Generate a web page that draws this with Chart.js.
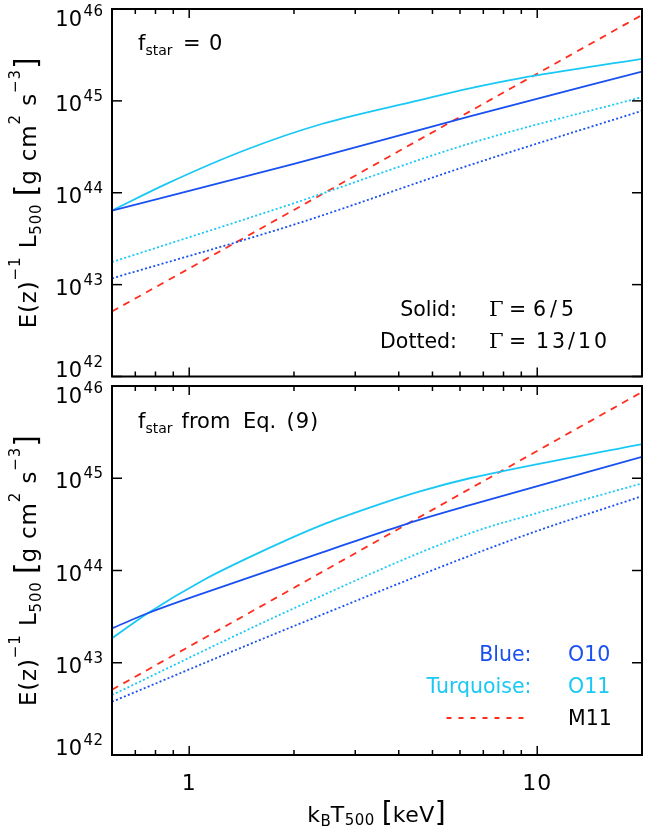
<!DOCTYPE html>
<html>
<head>
<meta charset="utf-8">
<script src="https://cdn.jsdelivr.net/npm/chart.js@4.4.1/dist/chart.umd.min.js"></script>
<style>
  body { margin: 0; background: #fff; width: 651px; height: 830px; position: relative; overflow: hidden; }
  canvas { position: absolute; left: 0; }
</style>
</head>
<body>
<canvas id="topPanel" width="651" height="400" style="top:0px"></canvas>
<canvas id="bottomPanel" width="651" height="470" style="top:360px"></canvas>
<script>
// axis ranges and ticks
const xMin = 0.6, xMax = 20;
const yMin = 1e42, yMax = 1e46;
const yTicks = [1e46, 1e45, 1e44, 1e43, 1e42];
const yTickExp = ['46', '45', '44', '43', '42'];
const xMajor = [1, 10];
const xMajorLabels = ['1', '10'];
const xMinor = [0.7, 0.8, 0.9, 2, 3, 4, 5, 6, 7, 8, 9, 20];

// M11 (red dashed), same in both panels
const m11T = [0.6, 2, 6, 20];
const m11L = [5.1e42, 6.5e43, 6.7e44, 8.6e45];

// top panel: f_star = 0
const topO10SolidT = [0.6, 2.0, 6.4, 20];
const topO10SolidL = [6.4e43, 2.06e44, 6.8e44, 2.08e45];
const topO11SolidT = [0.6, 0.86, 1.45, 2.4, 4.6, 6.4, 8.9, 20];
const topO11SolidL = [6.4e43, 1.25e44, 2.92e44, 5.6e44, 1.02e45, 1.37e45, 1.76e45, 2.86e45];
const topO10DotT = [0.6, 2.0, 6.4, 20];
const topO10DotL = [1.17e43, 4.5e43, 2.0e44, 7.8e44];
const topO11DotT = [0.6, 2.0, 6.4, 20];
const topO11DotL = [1.76e43, 7.7e43, 3.44e44, 1.10e45];

// bottom panel: f_star from Eq. (9)
const botO10SolidT = [0.6, 0.76, 1.42, 2.4, 4.2, 6.4, 20];
const botO10SolidL = [2.36e43, 3.44e43, 7.9e43, 1.56e44, 3.19e44, 5.1e44, 1.71e45];
const botO11SolidT = [0.6, 0.76, 1.1, 1.6, 2.4, 3.3, 4.6, 6.4, 20];
const botO11SolidL = [1.84e43, 3.44e43, 7.9e43, 1.58e44, 3.1e44, 4.8e44, 7.2e44, 1.0e45, 2.35e45];
const botO10DotT = [0.6, 2.0, 8.7, 20];
const botO10DotL = [3.78e42, 2.5e43, 2.23e44, 6.4e44];
const botO11DotT = [0.6, 2.0, 6.4, 10, 20];
const botO11DotL = [4.47e42, 3.89e43, 2.53e44, 4.2e44, 8.8e44];

const BLUE = 'rgb(25,80,240)';
const CYAN = 'rgb(25,200,245)';
const RED = 'rgb(255,45,30)';
const FONT = '"DejaVu Sans", sans-serif';
const SERIF = '"DejaVu Serif", serif';
const DOT = [2, 2.3];
const DASH = [7, 6];

function series(T, L, color, dash) {
    return {
        data: T.map((t, i) => ({ x: t, y: L[i] })),
        borderColor: color,
        borderWidth: 1.8,
        borderDash: dash || [],
        cubicInterpolationMode: 'monotone',
        pointRadius: 0,
        fill: false
    };
}

// draw a run of text pieces: {t, s (size), dy, f (family), ls (letter spacing), c (colour)}
function drawParts(ctx, x, y, parts, align) {
    let total = 0;
    parts.forEach(p => {
        ctx.font = p.s + 'px ' + (p.f || FONT);
        ctx.letterSpacing = (p.ls || 0) + 'px';
        p.w = ctx.measureText(p.t).width;
        total += p.w;
    });
    let cx = x;
    if (align === 'center') cx = x - total / 2;
    if (align === 'right') cx = x - total;
    ctx.textAlign = 'left';
    ctx.textBaseline = 'alphabetic';
    parts.forEach(p => {
        ctx.font = p.s + 'px ' + (p.f || FONT);
        ctx.letterSpacing = (p.ls || 0) + 'px';
        ctx.fillStyle = p.c || '#000';
        ctx.fillText(p.t, cx, y + (p.dy || 0));
        cx += p.w;
    });
    ctx.letterSpacing = '0px';
}

function seg(ctx, x1, y1, x2, y2) {
    ctx.beginPath();
    ctx.moveTo(x1, y1);
    ctx.lineTo(x2, y2);
    ctx.stroke();
}

const framePlugin = {
    id: 'frame',
    afterDraw(chart, args, opts) {
        const ctx = chart.ctx, a = chart.chartArea;
        const xs = chart.scales.x, ys = chart.scales.y;
        ctx.save();
        ctx.strokeStyle = '#000';
        ctx.lineWidth = 1.5;
        yTicks.forEach(v => {
            const y = ys.getPixelForValue(v);
            seg(ctx, a.left, y, a.left + 10, y);
            seg(ctx, a.right - 10, y, a.right, y);
        });
        xMajor.forEach(v => {
            const x = xs.getPixelForValue(v);
            seg(ctx, x, a.bottom, x, a.bottom - 9);
            seg(ctx, x, a.top, x, a.top + 9);
        });
        xMinor.forEach(v => {
            const x = xs.getPixelForValue(v);
            seg(ctx, x, a.bottom, x, a.bottom - 5);
            seg(ctx, x, a.top, x, a.top + 5);
        });
        ctx.lineWidth = 2;
        ctx.strokeRect(a.left, a.top, a.right - a.left, a.bottom - a.top);

        // y tick labels 10^n
        yTicks.forEach((v, i) => {
            const y = ys.getPixelForValue(v);
            let base = y + 10;
            if (i === 0) base = y + 17;
            if (i === yTicks.length - 1) base = y;
            drawParts(ctx, 82, base, [{ t: '10', s: 21 }], 'right');
            drawParts(ctx, 83.5, base - 10, [{ t: yTickExp[i], s: 15, ls: 0.5 }], 'left');
        });

        // y axis title
        ctx.save();
        ctx.translate(35.5, (a.top + a.bottom) / 2);
        ctx.rotate(-Math.PI / 2);
        drawParts(ctx, 0, 0, [
            { t: 'E(z)', s: 23, ls: 0.8 },
            { t: '\u22121', s: 15, dy: -16, ls: 1 },
            { t: ' L', s: 23, ls: 0.8 },
            { t: '500', s: 15, dy: 5.5, ls: 0.8 },
            { t: ' ', s: 23 },
            { t: '[', s: 30 },
            { t: 'g cm', s: 23, ls: 0.8 },
            { t: '2', s: 15, dy: -16, ls: 1 },
            { t: ' s', s: 23, ls: 0.8 },
            { t: '\u22123', s: 15, dy: -16, ls: 1 },
            { t: ']', s: 30 }
        ], 'center');
        ctx.restore();

        // x tick labels and title only for the lower panel
        if (opts.xLabels) {
            xMajor.forEach((v, i) => {
                drawParts(ctx, xs.getPixelForValue(v), a.bottom + 34.5, [{ t: xMajorLabels[i], s: 22, ls: 1 }], 'center');
            });
            drawParts(ctx, 376.5, a.bottom + 67, [
                { t: 'k', s: 22, ls: 0.5 },
                { t: 'B', s: 15, dy: 4 },
                { t: 'T', s: 22, ls: 0.5 },
                { t: '500', s: 15, dy: 3, ls: 0.5 },
                { t: ' ', s: 22 },
                { t: '[', s: 28 },
                { t: 'keV', s: 22, ls: 0.5 },
                { t: ']', s: 28 }
            ], 'center');
        }

        (opts.notes || []).forEach(n => {
            drawParts(ctx, n.x, a.top + n.y, n.parts, n.align || 'left');
        });
        if (opts.legendDash) {
            const y = a.top + opts.legendDash.y;
            ctx.strokeStyle = RED;
            ctx.lineWidth = 1.8;
            ctx.setLineDash([5, 7]);
            seg(ctx, opts.legendDash.x1, y, opts.legendDash.x2, y);
            ctx.setLineDash([]);
        }
        ctx.restore();
    }
};

function makeChart(id, padding, datasets, frame) {
    return new Chart(document.getElementById(id), {
        type: 'line',
        data: { datasets: datasets },
        options: {
            responsive: false,
            animation: false,
            layout: { padding: padding },
            plugins: {
                legend: { display: false },
                tooltip: { enabled: false },
                frame: frame
            },
            scales: {
                x: { type: 'logarithmic', min: xMin, max: xMax, display: false },
                y: { type: 'logarithmic', min: yMin, max: yMax, display: false }
            }
        },
        plugins: [framePlugin]
    });
}

makeChart('topPanel', { left: 112, right: 9, top: 9, bottom: 23.5 }, [
    series(topO10DotT, topO10DotL, BLUE, DOT),
    series(topO11DotT, topO11DotL, CYAN, DOT),
    series(topO10SolidT, topO10SolidL, BLUE),
    series(topO11SolidT, topO11SolidL, CYAN),
    series(m11T, m11L, RED, DASH)
], {
    notes: [
        { x: 138, y: 41, parts: [{ t: 'f', s: 21 }, { t: 'star', s: 14, dy: 5 }] },
        { x: 183, y: 41, parts: [{ t: '=', s: 21 }] },
        { x: 209, y: 41, parts: [{ t: '0', s: 21 }] },
        { x: 457, y: 307, align: 'right', parts: [{ t: 'Solid:', s: 20.5 }] },
        { x: 489, y: 307, parts: [{ t: '\u0393', s: 21, f: SERIF }] },
        { x: 509, y: 307, parts: [{ t: '=', s: 20.5 }] },
        { x: 533, y: 307, parts: [{ t: '6/5', s: 20.5, ls: 4 }] },
        { x: 457, y: 339, align: 'right', parts: [{ t: 'Dotted:', s: 20.5 }] },
        { x: 489, y: 339, parts: [{ t: '\u0393', s: 21, f: SERIF }] },
        { x: 509, y: 339, parts: [{ t: '=', s: 20.5 }] },
        { x: 536, y: 339, parts: [{ t: '13/10', s: 20.5, ls: 3 }] }
    ]
});

makeChart('bottomPanel', { left: 112, right: 9, top: 26, bottom: 75 }, [
    series(botO10DotT, botO10DotL, BLUE, DOT),
    series(botO11DotT, botO11DotL, CYAN, DOT),
    series(botO10SolidT, botO10SolidL, BLUE),
    series(botO11SolidT, botO11SolidL, CYAN),
    series(m11T, m11L, RED, DASH)
], {
    xLabels: true,
    notes: [
        { x: 138, y: 42, parts: [{ t: 'f', s: 21 }, { t: 'star', s: 14, dy: 5 }] },
        { x: 181.5, y: 42, parts: [{ t: 'from', s: 21 }] },
        { x: 243, y: 42, parts: [{ t: 'Eq.', s: 21 }] },
        { x: 286.5, y: 42, parts: [{ t: '(9)', s: 21, ls: 1 }] },
        { x: 531.5, y: 275, align: 'right', parts: [{ t: 'Blue:', s: 20.5, c: BLUE }] },
        { x: 568, y: 275, parts: [{ t: 'O10', s: 20.5, c: BLUE }] },
        { x: 531.5, y: 307, align: 'right', parts: [{ t: 'Turquoise:', s: 20.5, c: CYAN }] },
        { x: 568, y: 307, parts: [{ t: 'O11', s: 20.5, c: CYAN }] },
        { x: 568, y: 339, parts: [{ t: 'M11', s: 20.5 }] }
    ],
    legendDash: { x1: 446.5, x2: 530, y: 332 }
});
</script>
</body>
</html>
